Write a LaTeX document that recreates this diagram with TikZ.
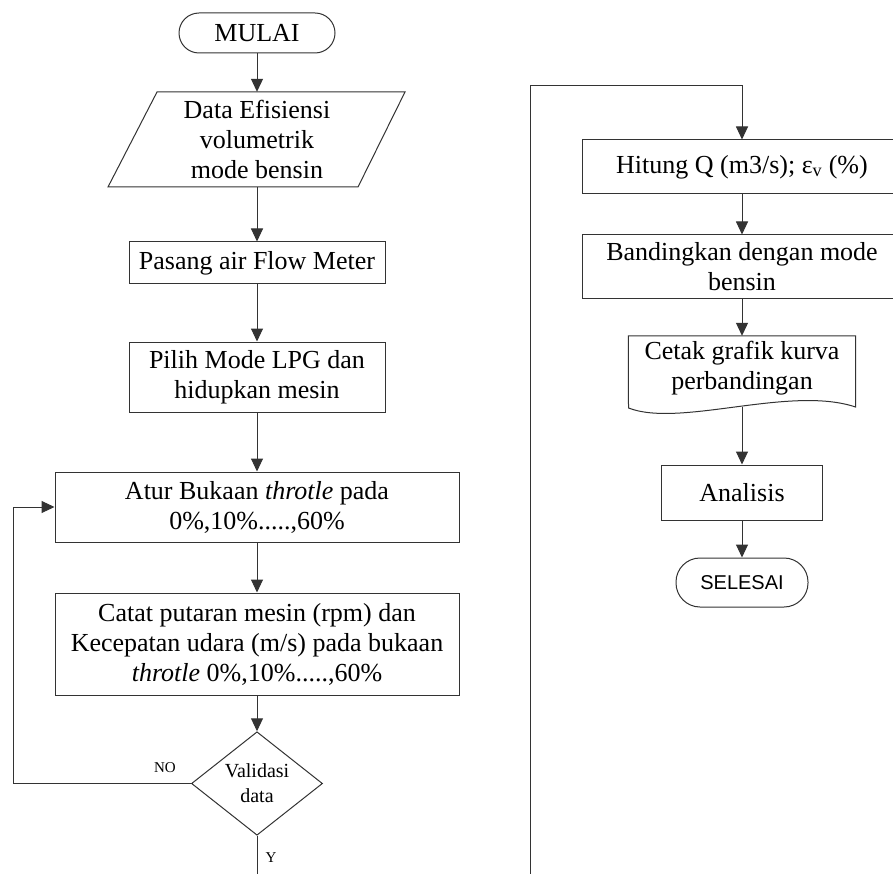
\documentclass[tikz,border=0pt]{standalone}
\usepackage{fontspec}
\setmainfont{Liberation Serif}
\newfontfamily\arialf{Liberation Sans}
\usetikzlibrary{shapes.geometric,arrows.meta,calc}
\begin{document}
\begin{tikzpicture}[x=1pt,y=-1pt,
  line/.style={draw=black!80, line width=1pt},
  arr/.style={line, -{Triangle[length=13pt,width=12pt]}},
  box/.style={draw=black!80, line width=1pt, rectangle, align=center, inner sep=0pt, font=\fontsize{26}{30}\selectfont},
  term/.style={box, rounded corners=20pt},
  plain/.style={align=center, inner sep=0pt, font=\fontsize{26}{30}\selectfont},
  lbl/.style={font=\fontsize{15}{17}\selectfont, inner sep=0pt}
]
\useasboundingbox (0,0) rectangle (893,874);
\clip (0,0) rectangle (893,874);
\fill[white] (0,0) rectangle (893,874);

% left column
\node[term, minimum width=156pt, minimum height=40pt] (mulai) at (257,33) {MULAI};
\node[plain, minimum width=200pt, minimum height=95pt] (data) at (257,139.5) {Data Efisiensi\\volumetrik\\mode bensin};
\draw[line] (108,187) -- (157,92) -- (405,92) -- (358,187) -- cycle;
\node[box, minimum width=256pt, minimum height=42pt] (pasang) at (257,263) {Pasang air Flow Meter};
\node[box, minimum width=256pt, minimum height=70pt] (pilih) at (257,377) {Pilih Mode LPG dan\\hidupkan mesin};
\node[box, minimum width=404pt, minimum height=70pt] (atur) at (257,507) {Atur Bukaan \textit{throtle} pada\\0\%,10\%.....,60\%};
\node[box, minimum width=404pt, minimum height=102pt] (catat) at (257,644) {Catat putaran mesin (rpm) dan\\Kecepatan udara (m/s) pada bukaan\\\textit{throtle} 0\%,10\%.....,60\%};
\node[draw=black!80, line width=1pt, diamond, inner sep=0pt, minimum width=131pt, minimum height=99pt, align=center, font=\fontsize{20}{25}\selectfont] (valid) at (257,783.5) {Validasi\\data};

\coordinate (lp) at (13,783.5);
\coordinate (lend) at (257,874);
\node[lbl] (no) at (165,768) {NO};
\node[lbl] (yes) at (271,858) {Y};

\draw[arr] (mulai) -- (data);
\draw[arr] (data) -- (pasang);
\draw[arr] (pasang) -- (pilih);
\draw[arr] (pilih) -- (atur);
\draw[arr] (atur) -- (catat);
\draw[arr] (catat) -- (valid);
\draw[arr] (valid.west) -- (lp) |- (atur.west);
\draw[line] (valid.south) -- (lend);

% right column
\coordinate (rstart) at (530,874);
\coordinate (rtop) at (530,86);
\node[box, minimum width=320pt, minimum height=54pt] (hitung) at (742,167) {Hitung Q (m3/s); ε\textsubscript{v} (\%)};
\node[box, minimum width=320pt, minimum height=63pt] (banding) at (742,266.5) {Bandingkan dengan mode\\bensin};
\node[plain, minimum width=227pt, minimum height=64pt] (cetak) at (742,368) {Cetak grafik kurva\\perbandingan};
\draw[line] (cetak.north west) -- (628.5,408) .. controls (680,428) and (790,385) .. (855.5,407) -- (cetak.north east) -- cycle;
\coordinate (cetakb) at (742,407);
\node[box, minimum width=161pt, minimum height=55pt] (analisis) at (742,492.5) {Analisis};
\node[term, rounded corners=24pt, minimum width=132pt, minimum height=49pt, font=\arialf\fontsize{20}{24}\selectfont] (selesai) at (742,582.5) {SELESAI};

\draw[arr] (rstart) -- (rtop) -| (hitung.north);
\draw[arr] (hitung) -- (banding);
\draw[arr] (banding) -- (cetak.north);
\draw[arr] (cetakb) -- (analisis);
\draw[arr] (analisis) -- (selesai);
\end{tikzpicture}
\end{document}
